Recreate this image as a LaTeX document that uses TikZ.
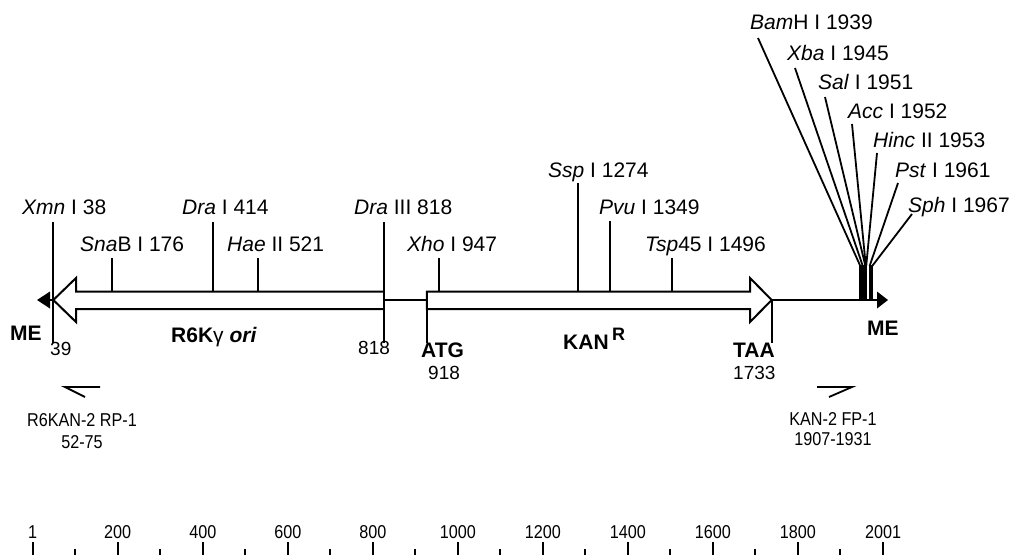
\documentclass[tikz,border=0pt]{standalone}
\usepackage{fontspec}
\setmainfont{Liberation Sans}
\newfontfamily\narrowfont{Liberation Sans}[FakeStretch=0.87]
\begin{document}
\begin{tikzpicture}[x=1pt,y=-1pt,
  lab/.style={inner sep=0pt, anchor=base west, font=\fontsize{21}{25}\selectfont},
  num/.style={inner sep=0pt, anchor=base west, font=\fontsize{19}{23}\selectfont},
  bl/.style={inner sep=0pt, anchor=base west, font=\bfseries\fontsize{21}{25}\selectfont},
  nar/.style={inner sep=0pt, anchor=base, font=\narrowfont\fontsize{18.6}{22}\selectfont},
  ln/.style={line width=2pt, line cap=butt},
  thinln/.style={line width=1.8pt, line cap=butt},
  genearrow/.style={line width=2pt, fill=white, line join=miter}]
\useasboundingbox (0,0) rectangle (1014,554);
\fill[white] (0,0) rectangle (1014,554);

% backbone
\coordinate (bbL) at (50,300);
\coordinate (bbR) at (877,300);
\draw[ln] (bbL) -- (bbR);
\fill (50,291.5) -- (37,300) -- (50,308.5) -- cycle;
\fill (877,291.5) -- (888,300) -- (877,308.5) -- cycle;

% R6K gamma ori arrow (leftwards)
\draw[genearrow] (384.4,291.5) -- (76,291.5) -- (76,278) -- (53.3,300) -- (76,322) -- (76,309) -- (384.4,309);
% KAN arrow (rightwards)
\draw[genearrow] (426.9,291.5) -- (750,291.5) -- (750,278) -- (771.7,300) -- (750,322) -- (750,309) -- (426.9,309) -- cycle;

% site coordinates
\coordinate (s38t) at (53.3,222);   \coordinate (s38b) at (53.3,343);
\coordinate (s176t) at (111.9,258); \coordinate (s176b) at (111.9,291.5);
\coordinate (s414t) at (212.9,222); \coordinate (s414b) at (212.9,291.5);
\coordinate (s521t) at (258.3,258); \coordinate (s521b) at (258.3,291.5);
\coordinate (s818t) at (384.4,222); \coordinate (s818b) at (384.4,343);
\coordinate (s918t) at (426.9,291.5); \coordinate (s918b) at (426.9,343);
\coordinate (s947t) at (439.2,258); \coordinate (s947b) at (439.2,291.5);
\coordinate (s1274t) at (578.0,183); \coordinate (s1274b) at (578.0,291.5);
\coordinate (s1349t) at (609.8,221); \coordinate (s1349b) at (609.8,291.5);
\coordinate (s1496t) at (672.2,258); \coordinate (s1496b) at (672.2,291.5);
\coordinate (s1733t) at (771.7,300); \coordinate (s1733b) at (771.7,343);

\foreach \s in {38,176,414,521,818,918,947,1274,1349,1496,1733}
  \draw[ln] (s\s t) -- (s\s b);

% site labels
\node[lab] (lXmn) at (22,214.5) {\textit{Xmn} I 38};
\node[lab] (lSna) at (80,251.5) {\textit{Sna}B I 176};
\node[lab] (lDra) at (182,214.5) {\textit{Dra} I 414};
\node[lab] (lHae) at (227,251.5) {\textit{Hae} II 521};
\node[lab] (lDra3) at (354,214.5) {\textit{Dra} III 818};
\node[lab] (lXho) at (407,251.5) {\textit{Xho} I 947};
\node[lab] (lSsp) at (548,177.5) {\textit{Ssp} I 1274};
\node[lab] (lPvu) at (599,214.5) {\textit{Pvu} I 1349};
\node[lab] (lTsp) at (645,251.5) {\textit{Tsp}45 I 1496};

% multiple cloning site: bars
\coordinate (barAtl) at (859.3,265); \coordinate (barAbr) at (867.2,301);
\coordinate (barBtl) at (869.0,265); \coordinate (barBbr) at (873.1,301);
\fill (barAtl) rectangle (barAbr);
\fill (barBtl) rectangle (barBbr);
% multiple cloning site: leader lines
\foreach \n/\x/\lx/\ly in {a/860.3/758/38, b/862.8/795/68, c/865.4/825/97, d/865.8/852/124, e/866.2/877/153, f/869.6/898/183, g/872.2/912/214}{
  \coordinate (mtop\n) at (\lx,\ly);
  \coordinate (mknee\n) at (\x,266);
  \draw[thinln, line join=round] (mtop\n) -- (mknee\n);
}

\node[lab] (lBam) at (750,29.5) {\textit{Bam}H I 1939};
\node[lab] (lXba) at (787,60.5) {\textit{Xba} I 1945};
\node[lab] (lSal) at (818,89.5) {\textit{Sal} I 1951};
\node[lab] (lAcc) at (848,118) {\textit{Acc} I 1952};
\node[lab] (lHinc) at (873,147) {\textit{Hinc} II 1953};
\node[lab] (lPst) at (895,177.5) {\textit{Pst} I 1961};
\node[lab] (lSph) at (908,212) {\textit{Sph} I 1967};

% lower labels
\node[bl] (meL) at (10,340.5) {ME};
\node[bl] (meR) at (867,335.5) {ME};
\node[bl, anchor=base] (ori) at (214,342) {R6K{\mdseries γ} \textit{ori}};
\node[num] (n39) at (50,355) {39};
\node[num] (n818) at (358,354) {818};
\node[bl] (atg) at (421,357.5) {ATG};
\node[num] (n918) at (428,379) {918};
\node[bl] (kan) at (563,349.5) {KAN\,\raisebox{9pt}{\fontsize{18}{20}\selectfont R}};
\node[bl] (taa) at (733,357.5) {TAA};
\node[num] (n1733) at (733,379) {1733};

% primers
\coordinate (pLa) at (100,387); \coordinate (pLb) at (65,387); \coordinate (pLc) at (85,397);
\draw[thinln, line join=miter] (pLa) -- (pLb) -- (pLc);
\coordinate (pRa) at (817,387); \coordinate (pRb) at (852,387); \coordinate (pRc) at (829,397);
\draw[thinln, line join=miter] (pRa) -- (pRb) -- (pRc);
\node[nar] (prL1) at (82,426.5) {R6KAN-2 RP-1};
\node[nar] (prL2) at (82,448) {52-75};
\node[nar] (prR1) at (833,425) {KAN-2 FP-1};
\node[nar] (prR2) at (833,445) {1907-1931};

% ruler
\foreach \k/\t in {0/1,1/200,2/400,3/600,4/800,5/1000,6/1200,7/1400,8/1600,9/1800,10/2001}{
  \pgfmathsetmacro\xx{32.7+\k*85.03}
  \coordinate (rt\k) at (\xx,542);
  \coordinate (rb\k) at (\xx,556);
  \draw[ln] (rt\k) -- (rb\k);
  \node[nar] (rl\k) at (\xx,538.7) {\t};
}
\foreach \k in {0,...,9}{
  \pgfmathsetmacro\xx{32.7+42.515+\k*85.03}
  \coordinate (mt\k) at (\xx,549);
  \coordinate (mb\k) at (\xx,556);
  \draw[ln] (mt\k) -- (mb\k);
}
\end{tikzpicture}
\end{document}
